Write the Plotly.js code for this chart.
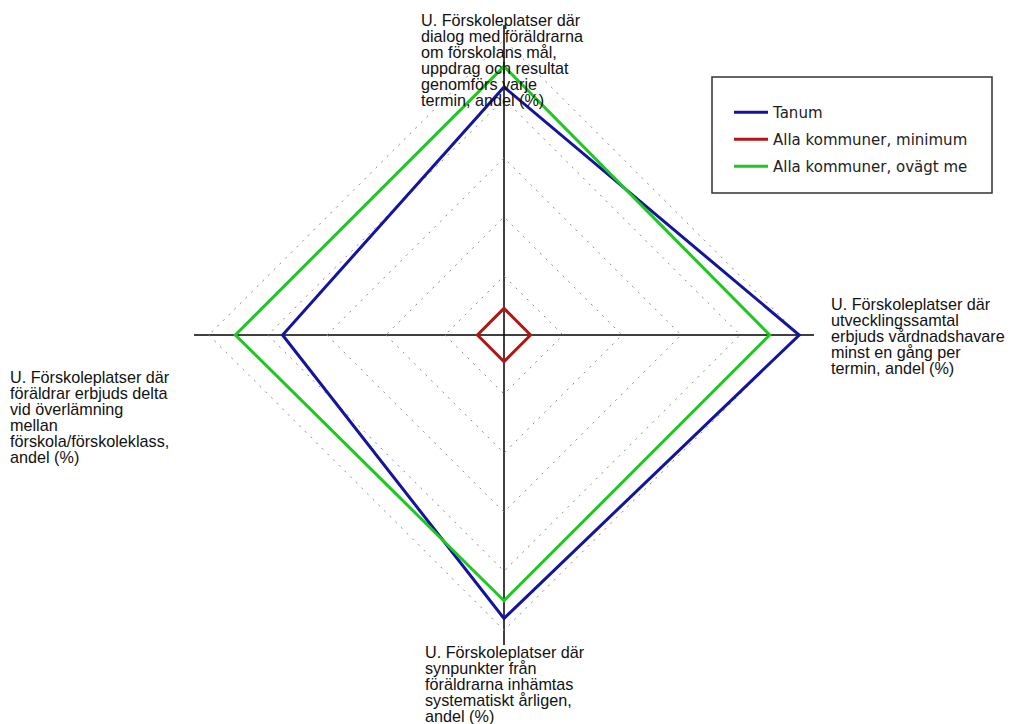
<!DOCTYPE html>
<html>
<head>
<meta charset="utf-8">
<script src="https://cdn.plot.ly/plotly-3.0.1.min.js"></script>
<style>html,body{margin:0;padding:0;background:#fff;}#chart{width:1016px;height:724px;}</style>
</head>
<body>
<div id="chart"></div>
<script>
// ---- data ----
const categories = [
  "U. Förskoleplatser där dialog med föräldrarna om förskolans mål, uppdrag och resultat genomförs varje termin, andel (%)",
  "U. Förskoleplatser där utvecklingssamtal erbjuds vårdnadshavare minst en gång per termin, andel (%)",
  "U. Förskoleplatser där synpunkter från föräldrarna inhämtas systematiskt årligen, andel (%)",
  "U. Förskoleplatser där föräldrar erbjuds delta vid överlämning mellan förskola/förskoleklass, andel (%)"
];
const labelTop = ["U. Förskoleplatser där", "dialog med föräldrarna", "om förskolans mål,", "uppdrag och resultat", "genomförs varje", "termin, andel (%)"];
const labelRight = ["U. Förskoleplatser där", "utvecklingssamtal", "erbjuds vårdnadshavare", "minst en gång per", "termin, andel (%)"];
const labelBottom = ["U. Förskoleplatser där", "synpunkter från", "föräldrarna inhämtas", "systematiskt årligen,", "andel (%)"];
const labelLeft = ["U. Förskoleplatser där", "föräldrar erbjuds delta", "vid överlämning", "mellan", "förskola/förskoleklass,", "andel (%)"];
const seriesNames = ["Tanum", "Alla kommuner, minimum", "Alla kommuner, ovägt me"];
const tanum = [84, 100, 96, 75];
const allaMinimum = [9, 9, 9, 9];
const allaOvagtMedel = [91, 90, 90, 91];
const gridTicks = [20, 40, 60, 80, 100];

// ---- build ----
const W = 1016, H = 724;
const colors = ["#14149e", "#b01818", "#1ec81e"];
const values = [tanum, allaMinimum, allaOvagtMedel];
const closed = a => a.concat([a[0]]);

const traces = values.map((v, i) => ({
  type: "scatterpolar",
  mode: "lines",
  r: closed(v),
  theta: closed(categories),
  name: seriesNames[i],
  legendgroup: "g" + i,
  line: {color: colors[i], width: 3},
  hoverinfo: "name+r"
}));

const cx = 504, cy = 335, R = 310;
const annotations = [];
function addLabel(lines, x, y0, step) {
  lines.forEach((t, k) => {
    annotations.push({
      xref: "paper", yref: "paper",
      x: x / W, y: 1 - (y0 + k * step) / H,
      xanchor: "left", yanchor: "middle",
      text: t, showarrow: false,
      font: {family: "Liberation Sans, Arial, sans-serif", size: 16.2, color: "#111"},
      borderpad: 0
    });
  });
}
addLabel(labelTop, 420, 20, 16);
addLabel(labelRight, 830, 304, 16);
addLabel(labelBottom, 424, 652, 16);
addLabel(labelLeft, 9, 377, 16);

const layout = {
  width: W, height: H,
  margin: {l: 0, r: 0, t: 0, b: 0},
  paper_bgcolor: "#ffffff",
  showlegend: true,
  legend: {
    x: 729 / W, y: 1 - 96 / H, xanchor: "left", yanchor: "top",
    bgcolor: "rgba(0,0,0,0)", borderwidth: 0,
    font: {family: "DejaVu Sans, sans-serif", size: 15, color: "#222"},
    tracegroupgap: 4.5, itemwidth: 34
  },
  polar: {
    domain: {x: [(cx - R) / W, (cx + R) / W], y: [(H - cy - R) / H, (H - cy + R) / H]},
    bgcolor: "#ffffff",
    gridshape: "linear",
    radialaxis: {
      range: [0, 105], tickvals: gridTicks, showticklabels: false, ticks: "",
      showline: false, gridcolor: "#8a8a8a", gridwidth: 1, griddash: "2px,6px"
    },
    angularaxis: {
      direction: "clockwise", rotation: 90,
      showticklabels: false, ticks: "", showline: false,
      gridcolor: "#000000", gridwidth: 1.5
    }
  },
  shapes: [{
    type: "rect", xref: "paper", yref: "paper",
    x0: 712 / W, x1: 992 / W, y0: 1 - 193 / H, y1: 1 - 77 / H,
    line: {color: "#333333", width: 1.5}, fillcolor: "rgba(0,0,0,0)"
  }],
  annotations: annotations
};

Plotly.newPlot("chart", traces, layout, {displayModeBar: false, staticPlot: true});
</script>
</body>
</html>
